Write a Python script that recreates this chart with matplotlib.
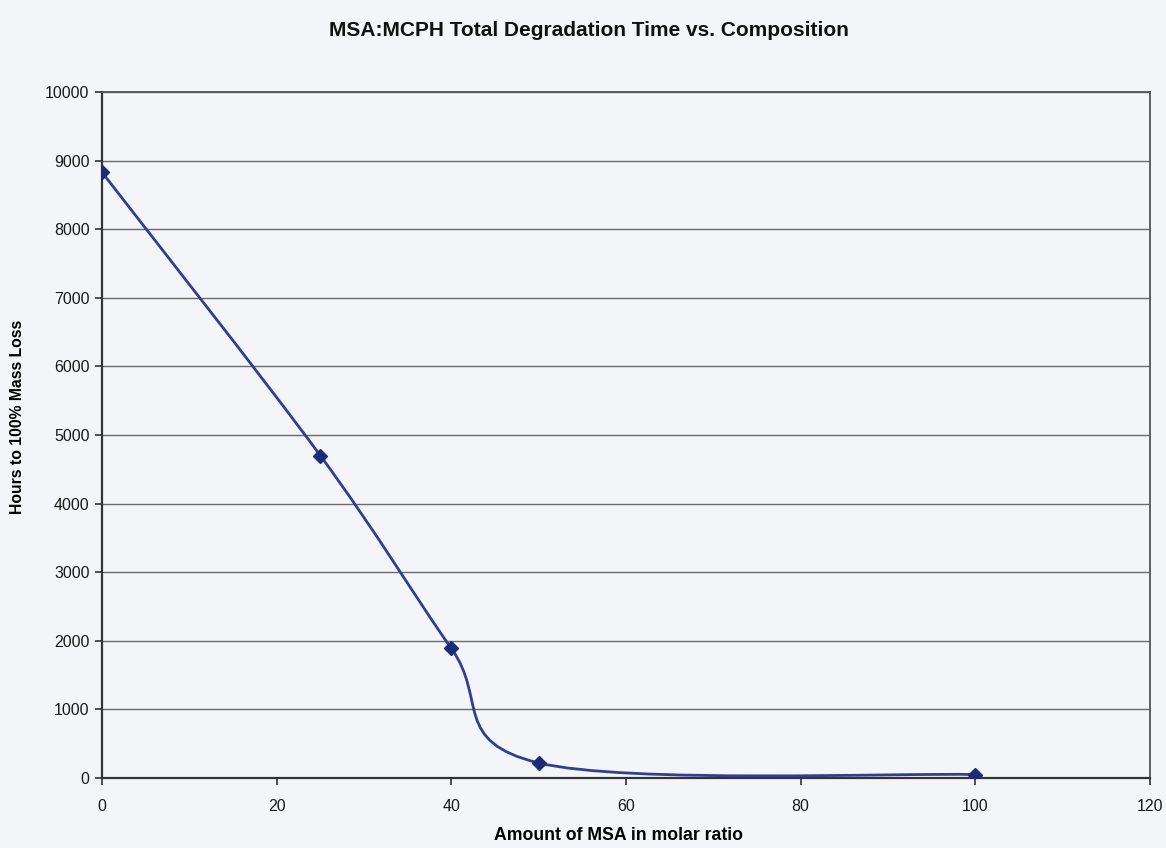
import numpy as np
import matplotlib
matplotlib.use('Agg')
import matplotlib.pyplot as plt
from matplotlib.path import Path
from matplotlib.patches import PathPatch

plt.rcParams['font.family'] = ['Liberation Sans', 'DejaVu Sans']

# data
msa_ratio = [0, 25, 40, 50, 100]
hours = [8830, 4700, 1890, 220, 50]

x_ticks = [0, 20, 40, 60, 80, 100, 120]
y_ticks = [0, 1000, 2000, 3000, 4000, 5000, 6000, 7000, 8000, 9000, 10000]

bg = '#f4f5f8'
line_col = '#303f8f'
mark_col = '#1c2a7a'

fig = plt.figure(figsize=(11.66, 8.48), dpi=100, facecolor=bg)
ax = fig.add_axes([102/1166, 1-778/848, (1150-102)/1166, (778-92)/848])
ax.set_facecolor(bg)

# Excel style smoothed line: bezier segments through the points
pts = np.column_stack([msa_ratio, hours]).astype(float)
ext = np.vstack([pts[0], pts, pts[-1]])
verts = [tuple(pts[0])]
codes = [Path.MOVETO]
for i in range(len(pts) - 1):
    p0, p1, p2, p3 = ext[i], ext[i+1], ext[i+2], ext[i+3]
    c1 = p1 + (p2 - p0) / 6.0
    c2 = p2 - (p3 - p1) / 6.0
    verts += [tuple(c1), tuple(c2), tuple(p2)]
    codes += [Path.CURVE4] * 3
ax.add_patch(PathPatch(Path(verts, codes), facecolor='none', edgecolor=line_col, lw=2.0, zorder=3))
ax.plot(msa_ratio, hours, linestyle='none', marker='D', markersize=7,
        color=mark_col, zorder=4)

ax.set_xlim(0, 120)
ax.set_ylim(0, 10000)
ax.set_xticks(x_ticks)
ax.set_yticks(y_ticks)
ax.tick_params(axis='both', direction='out', length=5, width=1.2, color='#333333',
               labelsize=11.5, labelcolor='#1a1a1a')
ax.tick_params(axis='x', pad=10)
ax.tick_params(axis='y', pad=4)
ax.grid(axis='y', color='#6a6a6a', lw=1.0)
ax.set_axisbelow(True)
for side in ['left', 'bottom']:
    ax.spines[side].set_linewidth(1.6)
    ax.spines[side].set_color('#333333')
for side in ['right', 'top']:
    ax.spines[side].set_linewidth(1.3)
    ax.spines[side].set_color('#555555')

ax.set_xlabel('Amount of MSA in molar ratio', fontsize=12.7, fontweight='bold')
ax.xaxis.set_label_coords(0.493, -0.072)
ax.set_ylabel('Hours to 100% Mass Loss', fontsize=11.3, fontweight='bold')
ax.yaxis.set_label_coords(-0.073, 0.526)
fig.text(0.505, 1-30/848, 'MSA:MCPH Total Degradation Time vs. Composition',
         ha='center', va='center', fontsize=15, fontweight='bold', color='#111111')

fig.savefig('out.png', dpi=100, facecolor=bg)
